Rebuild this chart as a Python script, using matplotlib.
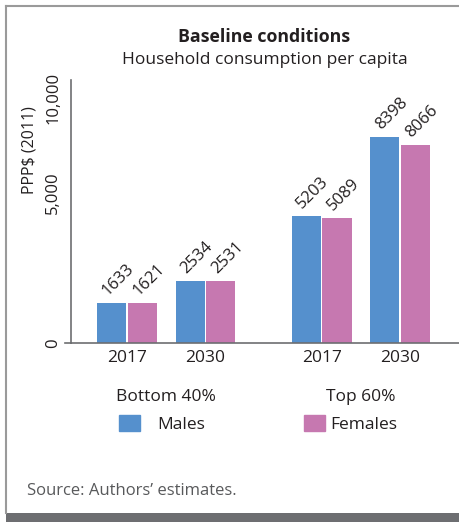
import matplotlib
matplotlib.use("Agg")
import matplotlib.pyplot as plt
from matplotlib.lines import Line2D
from matplotlib.patches import Rectangle
from matplotlib.transforms import ScaledTranslation
import numpy as np

# Data
years = ["2017", "2030", "2017", "2030"]
groups = ["Bottom 40%", "Top 60%"]
males = [1633, 2534, 5203, 8398]
females = [1621, 2531, 5089, 8066]
yticks = [0, 5000, 10000]
ytick_labels = ["0", "5,000", "10,000"]

BLUE = "#5590cd"
PINK = "#c678b0"
TEXT = "#231f20"
GRAY = "#58595b"

plt.rcParams["font.family"] = ["Open Sans", "DejaVu Sans"]

fig = plt.figure(figsize=(4.6, 5.22), dpi=100)
ax = fig.add_axes([71 / 460, 1 - 343 / 522, 1 - 71 / 460, (343 - 80) / 522])

pos = np.array([0, 1, 2.48, 3.48])
w = 0.37
off = 0.195
ax.bar(pos - off, males, w, color=BLUE, label="Males")
ax.bar(pos + off, females, w, color=PINK, label="Females")

for p, m, f in zip(pos, males, females):
    for x, v in ((p - off, m), (p + off, f)):
        ax.annotate(str(v), (x - w / 2, v), xytext=(9.5, 3), textcoords="offset points",
                    rotation=45, rotation_mode="anchor", ha="left", va="bottom",
                    fontsize=12, color=TEXT)

ax.set_xlim(-0.713, 4.242)
ax.set_ylim(0, 10740)
ax.set_xticks(pos)
ax.set_xticklabels(years, fontsize=12.5, color=TEXT)
ax.set_yticks(yticks)
ax.set_yticklabels(ytick_labels, fontsize=12, color=TEXT, rotation=90, va="center")
ax.tick_params(axis="x", length=0, pad=5)
ax.tick_params(axis="y", length=0, pad=7)

for s in ["top", "right"]:
    ax.spines[s].set_visible(False)
for s in ["left", "bottom"]:
    ax.spines[s].set_color("#6d6e71")
    ax.spines[s].set_linewidth(1.2)
ax.plot([-0.016, 0], [0, 0], transform=ax.transAxes, clip_on=False,
        color="#6d6e71", lw=1.2)

# shift the 5,000 label up as in the original
lbl = ax.get_yticklabels()[1]
lbl.set_transform(lbl.get_transform() + ScaledTranslation(0, 0.28, fig.dpi_scale_trans))

ax.set_ylabel("PPP$ (2011)", fontsize=11.5, color=TEXT, va="center")
ax.yaxis.set_label_coords((30 - 71) / 389, (343 - 150) / 263)

# group labels
for g, xc in zip(groups, [0.5, 2.98]):
    ax.text(xc, -0.205, g, transform=ax.get_xaxis_transform(), ha="center",
            va="center", fontsize=12.5, color=TEXT)

# legend, one entry each so the gaps match the original
leg1 = fig.legend([Rectangle((0, 0), 1, 1, color=BLUE)], ["Males"], loc="center left",
                  bbox_to_anchor=(103 / 460, 1 - 424 / 522), frameon=False,
                  fontsize=12.5, handlelength=1.25, handleheight=1.0,
                  handletextpad=1.0, labelcolor=TEXT)
leg2 = fig.legend([Rectangle((0, 0), 1, 1, color=PINK)], ["Females"], loc="center left",
                  bbox_to_anchor=(288 / 460, 1 - 424 / 522), frameon=False,
                  fontsize=12.5, handlelength=1.25, handleheight=1.0,
                  handletextpad=0.3, labelcolor=TEXT)

# titles
fig.text(264 / 460, 1 - 37 / 522, "Baseline conditions", ha="center", va="center",
         fontsize=12.8, fontweight="bold", color=TEXT)
fig.text(265 / 460, 1 - 60 / 522, "Household consumption per capita", ha="center",
         va="center", fontsize=12.5, color=TEXT)

fig.text(27 / 460, 1 - 491 / 522, "Source: Authors\u2019 estimates.", ha="left",
         va="center", fontsize=12, color=GRAY)

# frame
fig.add_artist(Line2D([6.5 / 460, 6.5 / 460], [1 - 513 / 522, 1 - 5.5 / 522],
                      color="#9a9a9a", lw=1.5))
fig.add_artist(Line2D([6.5 / 460, 1], [1 - 5.5 / 522, 1 - 5.5 / 522],
                      color="#9a9a9a", lw=1.5))
fig.add_artist(Rectangle((6 / 460, 0), 1, 9 / 522, transform=fig.transFigure,
                         color="#6d6e71", lw=0))

fig.savefig("out.png", dpi=100)
